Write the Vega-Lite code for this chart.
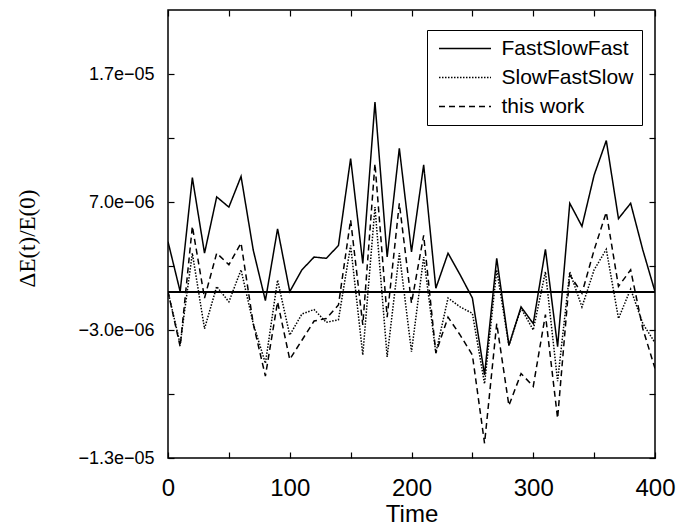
{
  "$schema": "https://vega.github.io/schema/vega-lite/v6.json",
  "width": 487,
  "height": 448,
  "autosize": "none",
  "padding": {"left": 168, "top": 10, "right": 23, "bottom": 70},
  "background": "white",
  "config": {
    "view": {"stroke": "black", "strokeWidth": 1.5},
    "axis": {"grid": false, "domain": false, "tickColor": "black", "labelColor": "black", "titleColor": "black", "tickSize": -6, "tickWidth": 1.2, "labelFlush": false}
  },
  "datasets": {
    "pts": [
      {"t":0,"v":3.9e-6,"s":"FastSlowFast"},{"t":10,"v":0,"s":"FastSlowFast"},{"t":20,"v":8.9e-6,"s":"FastSlowFast"},{"t":30,"v":3.0e-6,"s":"FastSlowFast"},{"t":40,"v":7.4e-6,"s":"FastSlowFast"},{"t":50,"v":6.6e-6,"s":"FastSlowFast"},{"t":60,"v":9.0e-6,"s":"FastSlowFast"},{"t":70,"v":3.25e-6,"s":"FastSlowFast"},{"t":80,"v":-0.7e-6,"s":"FastSlowFast"},{"t":90,"v":4.9e-6,"s":"FastSlowFast"},{"t":100,"v":0,"s":"FastSlowFast"},{"t":110,"v":1.7e-6,"s":"FastSlowFast"},{"t":120,"v":2.7e-6,"s":"FastSlowFast"},{"t":130,"v":2.6e-6,"s":"FastSlowFast"},{"t":140,"v":3.6e-6,"s":"FastSlowFast"},{"t":150,"v":10.4e-6,"s":"FastSlowFast"},{"t":160,"v":2.2e-6,"s":"FastSlowFast"},{"t":170,"v":14.8e-6,"s":"FastSlowFast"},{"t":180,"v":2.7e-6,"s":"FastSlowFast"},{"t":190,"v":11.2e-6,"s":"FastSlowFast"},{"t":200,"v":3.1e-6,"s":"FastSlowFast"},{"t":210,"v":9.9e-6,"s":"FastSlowFast"},{"t":220,"v":0.26e-6,"s":"FastSlowFast"},{"t":230,"v":3.0e-6,"s":"FastSlowFast"},{"t":240,"v":1.3e-6,"s":"FastSlowFast"},{"t":250,"v":-0.5e-6,"s":"FastSlowFast"},{"t":260,"v":-6.5e-6,"s":"FastSlowFast"},{"t":270,"v":2.6e-6,"s":"FastSlowFast"},{"t":280,"v":-4.2e-6,"s":"FastSlowFast"},{"t":290,"v":-1.2e-6,"s":"FastSlowFast"},{"t":300,"v":-2.5e-6,"s":"FastSlowFast"},{"t":310,"v":3.3e-6,"s":"FastSlowFast"},{"t":320,"v":-4.3e-6,"s":"FastSlowFast"},{"t":330,"v":6.9e-6,"s":"FastSlowFast"},{"t":340,"v":5.1e-6,"s":"FastSlowFast"},{"t":350,"v":9.1e-6,"s":"FastSlowFast"},{"t":360,"v":11.8e-6,"s":"FastSlowFast"},{"t":370,"v":5.7e-6,"s":"FastSlowFast"},{"t":380,"v":6.9e-6,"s":"FastSlowFast"},{"t":390,"v":3.25e-6,"s":"FastSlowFast"},{"t":400,"v":0,"s":"FastSlowFast"},
      {"t":0,"v":0,"s":"SlowFastSlow"},{"t":10,"v":-4.1e-6,"s":"SlowFastSlow"},{"t":20,"v":3.0e-6,"s":"SlowFastSlow"},{"t":30,"v":-2.9e-6,"s":"SlowFastSlow"},{"t":40,"v":0.4e-6,"s":"SlowFastSlow"},{"t":50,"v":-0.8e-6,"s":"SlowFastSlow"},{"t":60,"v":1.7e-6,"s":"SlowFastSlow"},{"t":70,"v":-2.5e-6,"s":"SlowFastSlow"},{"t":80,"v":-5.6e-6,"s":"SlowFastSlow"},{"t":90,"v":0.9e-6,"s":"SlowFastSlow"},{"t":100,"v":-3.4e-6,"s":"SlowFastSlow"},{"t":110,"v":-1.75e-6,"s":"SlowFastSlow"},{"t":120,"v":-1.4e-6,"s":"SlowFastSlow"},{"t":130,"v":-2.4e-6,"s":"SlowFastSlow"},{"t":140,"v":-2.2e-6,"s":"SlowFastSlow"},{"t":150,"v":3.6e-6,"s":"SlowFastSlow"},{"t":160,"v":-4.95e-6,"s":"SlowFastSlow"},{"t":170,"v":6.6e-6,"s":"SlowFastSlow"},{"t":180,"v":-5.1e-6,"s":"SlowFastSlow"},{"t":190,"v":3.0e-6,"s":"SlowFastSlow"},{"t":200,"v":-4.7e-6,"s":"SlowFastSlow"},{"t":210,"v":2.7e-6,"s":"SlowFastSlow"},{"t":220,"v":-4.8e-6,"s":"SlowFastSlow"},{"t":230,"v":-0.5e-6,"s":"SlowFastSlow"},{"t":240,"v":-1.2e-6,"s":"SlowFastSlow"},{"t":250,"v":-1.7e-6,"s":"SlowFastSlow"},{"t":260,"v":-7.2e-6,"s":"SlowFastSlow"},{"t":270,"v":1.7e-6,"s":"SlowFastSlow"},{"t":280,"v":-4.2e-6,"s":"SlowFastSlow"},{"t":290,"v":-1.3e-6,"s":"SlowFastSlow"},{"t":300,"v":-3.0e-6,"s":"SlowFastSlow"},{"t":310,"v":1.55e-6,"s":"SlowFastSlow"},{"t":320,"v":-7.0e-6,"s":"SlowFastSlow"},{"t":330,"v":1.55e-6,"s":"SlowFastSlow"},{"t":340,"v":-1.2e-6,"s":"SlowFastSlow"},{"t":350,"v":1.7e-6,"s":"SlowFastSlow"},{"t":360,"v":3.3e-6,"s":"SlowFastSlow"},{"t":370,"v":-2.1e-6,"s":"SlowFastSlow"},{"t":380,"v":0.2e-6,"s":"SlowFastSlow"},{"t":390,"v":-2.5e-6,"s":"SlowFastSlow"},{"t":400,"v":-4.0e-6,"s":"SlowFastSlow"},
      {"t":0,"v":0,"s":"this work"},{"t":10,"v":-4.3e-6,"s":"this work"},{"t":20,"v":5.1e-6,"s":"this work"},{"t":30,"v":-0.5e-6,"s":"this work"},{"t":40,"v":3.0e-6,"s":"this work"},{"t":50,"v":2.1e-6,"s":"this work"},{"t":60,"v":3.8e-6,"s":"this work"},{"t":70,"v":-2.5e-6,"s":"this work"},{"t":80,"v":-6.6e-6,"s":"this work"},{"t":90,"v":-0.8e-6,"s":"this work"},{"t":100,"v":-5.3e-6,"s":"this work"},{"t":110,"v":-3.8e-6,"s":"this work"},{"t":120,"v":-2.3e-6,"s":"this work"},{"t":130,"v":-2.1e-6,"s":"this work"},{"t":140,"v":-1.05e-6,"s":"this work"},{"t":150,"v":5.6e-6,"s":"this work"},{"t":160,"v":-2.6e-6,"s":"this work"},{"t":170,"v":10.0e-6,"s":"this work"},{"t":180,"v":-2.0e-6,"s":"this work"},{"t":190,"v":6.9e-6,"s":"this work"},{"t":200,"v":-0.9e-6,"s":"this work"},{"t":210,"v":4.4e-6,"s":"this work"},{"t":220,"v":-4.8e-6,"s":"this work"},{"t":230,"v":-2.0e-6,"s":"this work"},{"t":240,"v":-3.4e-6,"s":"this work"},{"t":250,"v":-4.95e-6,"s":"this work"},{"t":260,"v":-11.85e-6,"s":"this work"},{"t":270,"v":-2.5e-6,"s":"this work"},{"t":280,"v":-8.9e-6,"s":"this work"},{"t":290,"v":-6.4e-6,"s":"this work"},{"t":300,"v":-7.4e-6,"s":"this work"},{"t":310,"v":-1.8e-6,"s":"this work"},{"t":320,"v":-9.9e-6,"s":"this work"},{"t":330,"v":1.3e-6,"s":"this work"},{"t":340,"v":-0.13e-6,"s":"this work"},{"t":350,"v":3.25e-6,"s":"this work"},{"t":360,"v":6.2e-6,"s":"this work"},{"t":370,"v":0.4e-6,"s":"this work"},{"t":380,"v":1.7e-6,"s":"this work"},{"t":390,"v":-2.9e-6,"s":"this work"},{"t":400,"v":-6.0e-6,"s":"this work"}
    ]
  },
  "data": {"name": "pts"},
  "resolve": {"axis": {"x": "independent", "y": "independent"}},
  "layer": [
    {
      "mark": {"type": "rule", "color": "black", "strokeWidth": 1.2},
      "encoding": {"y": {"datum": 0, "type": "quantitative", "scale": {"domain": [-1.3e-5, 2.2e-5], "nice": false, "zero": false}, "axis": null}}
    },
    {
      "mark": {"type": "line", "color": "black", "strokeWidth": 1.5, "clip": true},
      "encoding": {
        "x": {"field": "t", "type": "quantitative", "scale": {"domain": [0, 400], "nice": false},
          "axis": {"orient": "bottom", "values": [0,50,100,150,200,250,300,350,400], "format": "d",
            "labelExpr": "datum.value % 100 == 0 ? datum.label : ''",
            "labelFont": "Liberation Sans", "labelFontSize": 24, "labelPadding": 24,
            "title": "Time", "titleFont": "Liberation Sans", "titleFontSize": 24, "titleFontWeight": "normal", "titlePadding": 2}},
        "y": {"field": "v", "type": "quantitative", "scale": {"domain": [-1.3e-5, 2.2e-5], "nice": false, "zero": false},
          "axis": {"orient": "left", "values": [-1.3e-5, -8e-6, -3e-6, 2e-6, 7e-6, 1.2e-5, 1.7e-5],
            "labelExpr": "abs(datum.value - 1.7e-5) < 1e-9 ? '1.7e\u221205' : abs(datum.value - 7e-6) < 1e-9 ? '7.0e\u221206' : abs(datum.value + 3e-6) < 1e-9 ? '\u22123.0e\u221206' : abs(datum.value + 1.3e-5) < 1e-9 ? '\u22121.3e\u221205' : ''",
            "labelFont": "Liberation Sans", "labelFontSize": 18, "labelPadding": 20,
            "title": "ΔE(t)/E(0)", "titleFont": "Liberation Serif", "titleFontSize": 23, "titleFontWeight": "normal",
            "titleX": -141, "titleY": 228, "titleBaseline": "middle", "titleAlign": "center", "titleAngle": -90}},
        "strokeDash": {"field": "s", "type": "nominal",
          "scale": {"domain": ["FastSlowFast", "SlowFastSlow", "this work"], "range": [[1, 0], [1.5, 1.5], [6, 4]]},
          "legend": {"title": null, "orient": "none", "legendX": 259, "legendY": 20,
            "strokeColor": "black", "fillColor": "white", "padding": 8,
            "symbolType": "M-4,0H4", "symbolSize": 169, "symbolOffset": 19.5, "symbolStrokeColor": "black", "symbolStrokeWidth": 1.5,
            "labelFont": "Liberation Sans", "labelFontSize": 21, "labelColor": "black", "labelOffset": 26, "rowPadding": 7}}
      }
    },
    {
      "mark": {"type": "point", "opacity": 0},
      "encoding": {
        "x": {"field": "t", "type": "quantitative",
          "axis": {"orient": "top", "values": [0,50,100,150,200,250,300,350,400], "labels": false, "title": null}},
        "y": {"field": "v", "type": "quantitative",
          "axis": {"orient": "right", "values": [-1.3e-5, -8e-6, -3e-6, 2e-6, 7e-6, 1.2e-5, 1.7e-5], "labels": false, "title": null}}
      }
    }
  ]
}
